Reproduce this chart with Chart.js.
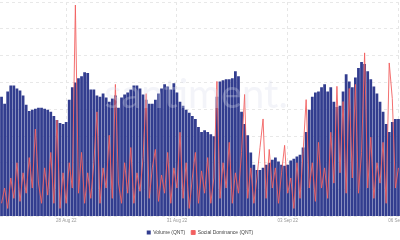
<!DOCTYPE html>
<html>
<head>
<meta charset="utf-8">
<script src="https://cdn.jsdelivr.net/npm/chart.js@4"></script>
<style>
  html, body { margin: 0; padding: 0; background: #fff; overflow: hidden; }
  #wrap { width: 400px; height: 240px; position: relative; }
</style>
</head>
<body>
<div id="wrap"><canvas id="qntChart"></canvas></div>
<script>
// 2-hourly buckets, 26 Aug 22 06:00 -> 06 Sep 22 00:00
const startTime = Date.UTC(2022, 7, 26, 6);
const stepHours = 2;

const tickIndex = [21, 57, 93, 129];
const tickLabels = ['28 Aug 22', '31 Aug 22', '03 Sep 22', '06 Sep 22'];

const volume = [
  4.47, 4.21, 4.66, 4.89, 4.89, 4.78, 4.70, 4.51, 4.17, 3.94,
  3.98, 4.02, 4.06, 4.06, 4.02, 3.98, 3.91, 3.75, 3.60, 3.49,
  3.45, 3.53, 4.36, 4.82, 5.00, 5.16, 5.23, 5.38, 5.35, 4.74,
  4.74, 4.51, 4.47, 4.59, 4.44, 4.28, 4.40, 4.51, 4.06, 4.44,
  4.55, 4.63, 4.74, 4.89, 4.89, 4.78, 4.55, 4.36, 4.21, 4.21,
  4.36, 4.59, 4.78, 4.93, 4.85, 4.74, 4.97, 4.63, 4.28, 4.13,
  3.98, 3.87, 3.75, 3.64, 3.34, 3.15, 3.22, 3.15, 3.07, 3.00,
  4.47, 5.04, 5.08, 5.12, 5.12, 5.16, 5.42, 5.23, 3.91, 3.45,
  3.03, 2.39, 1.93, 1.74, 1.74, 1.82, 1.93, 2.01, 2.12, 2.20,
  2.05, 1.93, 1.90, 1.93, 2.09, 2.16, 2.24, 2.31, 2.58, 3.15,
  3.98, 4.47, 4.63, 4.66, 4.82, 4.93, 4.66, 4.82, 4.28, 4.09,
  4.13, 4.66, 5.31, 5.04, 4.82, 5.19, 5.54, 5.76, 5.69, 5.42,
  5.12, 4.85, 4.59, 4.28, 3.91, 3.45, 3.15, 3.53, 3.64, 3.64
];

const socialDominance = [
  6.2, 13.3, 3.8, 18.0, 8.5, 25.1, 7.1, 20.4, 10.9, 27.5,
  13.3, 40.8, 15.6, 6.2, 22.7, 10.0, 29.9, 6.2, 45.0, 3.8,
  20.4, 6.2, 25.1, 13.3, 98.6, 10.9, 29.9, 6.2, 20.4, 8.5,
  25.1, 48.8, 6.2, 22.7, 13.3, 37.9, 8.5, 61.6, 15.6, 6.2,
  25.1, 10.9, 32.2, 6.2, 20.4, 11.8, 27.5, 57.3, 8.5, 22.7,
  31.3, 7.1, 19.4, 10.9, 29.9, 6.2, 22.7, 13.3, 39.3, 8.5,
  25.1, 3.8, 18.0, 29.9, 6.2, 21.3, 10.9, 27.5, 6.2, 18.0,
  63.0, 8.5, 25.1, 13.3, 34.6, 6.2, 20.4, 10.9, 29.9, 56.9,
  8.5, 22.7, 6.2, 18.0, 32.2, 45.5, 8.5, 31.3, 13.3, 22.7,
  6.2, 20.4, 33.2, 10.9, 18.0, 3.8, 25.1, 8.5, 29.9, 54.5,
  13.3, 25.1, 7.1, 34.6, 13.3, 22.7, 8.5, 39.3, 15.6, 60.7,
  20.4, 53.6, 10.9, 59.7, 18.0, 61.6, 10.9, 29.9, 76.3, 13.3,
  37.0, 8.5, 25.1, 15.6, 34.6, 6.2, 71.6, 55.0, 13.3, 22.7
];

const categories = volume.map((v, i) => new Date(startTime + i * stepHours * 3600000).toISOString());

const watermark = {
  id: 'watermark',
  afterDatasetsDraw(chart) {
    const { ctx, chartArea } = chart;
    ctx.save();
    ctx.font = '40px Lato, "Noto Sans", sans-serif';
    ctx.fillStyle = 'rgba(214, 217, 236, 0.3)';
    ctx.textAlign = 'center';
    ctx.textBaseline = 'alphabetic';
    ctx.fillText('santiment.', chartArea.left + 196, chartArea.top + 106);
    ctx.restore();
  }
};

document.addEventListener('DOMContentLoaded', function() {
  const ctx = document.getElementById('qntChart').getContext('2d');
  new Chart(ctx, {
    data: {
      labels: categories,
      datasets: [
        {
          type: 'bar',
          label: 'Volume (QNT)',
          data: volume,
          backgroundColor: '#323d8f',
          borderWidth: 0,
          barPercentage: 1,
          categoryPercentage: 0.9,
          yAxisID: 'y',
          order: 2
        },
        {
          type: 'line',
          label: 'Social Dominance (QNT)',
          data: socialDominance,
          borderColor: 'rgba(242, 96, 96, 0.9)',
          backgroundColor: '#f26060',
          borderWidth: 1,
          pointRadius: 0,
          tension: 0,
          yAxisID: 'y1',
          order: 1
        }
      ]
    },
    options: {
      responsive: true,
      maintainAspectRatio: false,
      animation: false,
      layout: { padding: { top: 2, bottom: -5, left: 0, right: 0 } },
      plugins: {
        tooltip: { enabled: false },
        legend: {
          position: 'bottom',
          labels: {
            boxWidth: 4,
            boxHeight: 4,
            padding: 6,
            color: '#444',
            font: { size: 5, family: 'Arial, "Liberation Sans", sans-serif' },
            sort: (a, b) => a.datasetIndex - b.datasetIndex
          }
        }
      },
      scales: {
        x: {
          type: 'category',
          offset: true,
          grid: {
            offset: false,
            drawTicks: false,
            color: c => (c.tick && tickIndex.includes(c.tick.value)) ? '#e6e6e6' : 'rgba(0,0,0,0)',
            lineWidth: 1
          },
          border: { display: false, dash: [3, 3] },
          ticks: {
            autoSkip: false,
            maxRotation: 0,
            padding: 1,
            color: '#9a9a9a',
            font: { size: 4.5, family: 'Arial, "Liberation Sans", sans-serif' },
            callback: function(value, index) {
              const k = tickIndex.indexOf(index);
              return k >= 0 ? tickLabels[k] : '';
            }
          },
          afterFit: s => { s.paddingLeft = 0; s.paddingRight = 0; }
        },
        y: {
          type: 'linear',
          position: 'left',
          min: 0,
          max: 8,
          border: { display: false, dash: [3, 3] },
          grid: { color: '#e8e8e8', drawTicks: false },
          ticks: { display: false, stepSize: 1 }
        },
        y1: {
          type: 'linear',
          position: 'right',
          display: false,
          min: 0,
          max: 100
        }
      }
    },
    plugins: [watermark]
  });
});
</script>
</body>
</html>
